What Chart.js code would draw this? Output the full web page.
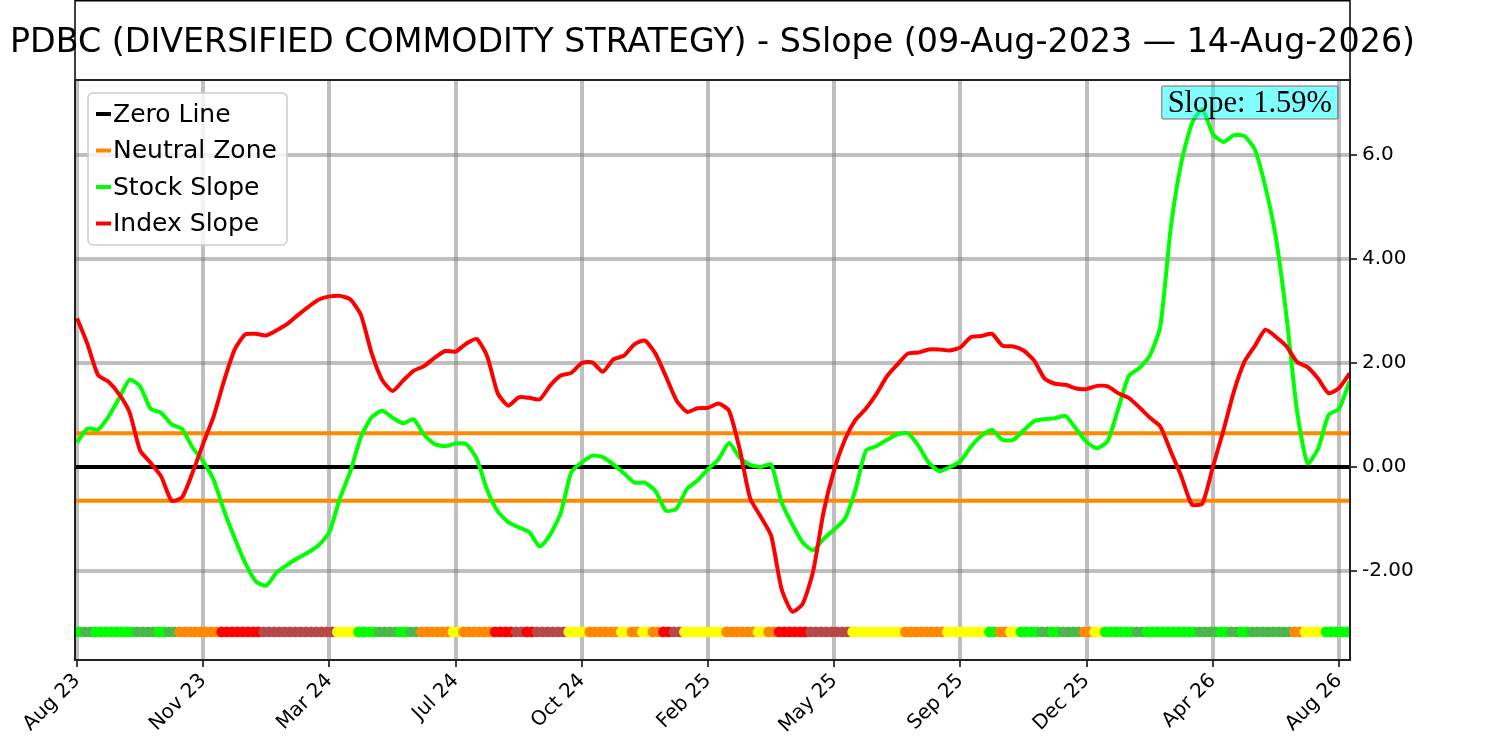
<!DOCTYPE html>
<html>
<head>
<meta charset="utf-8">
<script src="https://cdn.jsdelivr.net/npm/chart.js@4.4.1/dist/chart.umd.min.js"></script>
<style>
  html, body { margin: 0; padding: 0; background: #fff; }
</style>
</head>
<body>
<canvas id="slopeChart" width="1500" height="741"></canvas>
<script>
// chart text
const chartTitle = 'PDBC (DIVERSIFIED COMMODITY STRATEGY) - SSlope (09-Aug-2023 — 14-Aug-2026)';
const slopeNote = 'Slope: 1.59%';

// x axis: one sample every ~9 days, a tick every 12 samples
const xTickPos = [0, 12, 24, 36, 48, 60, 72, 84, 96, 108, 120];
const xTickLabels = ['Aug 23', 'Nov 23', 'Mar 24', 'Jul 24', 'Oct 24', 'Feb 25', 'May 25', 'Sep 25', 'Dec 25', 'Apr 26', 'Aug 26'];
const xMin = -0.19;
const xMax = 121.04;

// y axis
const yTickPos = [-2, 0, 2, 4, 6];
const yTickLabels = ['-2.00', '0.00', '2.00', '4.00', '6.0'];
const yMin = -3.71;
const yMax = 7.44;

const zeroLevel = 0;
const neutralBand = 0.65;
const trendLevel = -3.17;

const stockSlope = [
  0.47, 0.74, 0.72, 0.97, 1.32, 1.68, 1.55, 1.12, 1.04, 0.82,
  0.73, 0.37, 0.11, -0.25, -0.85, -1.37, -1.85, -2.20, -2.28, -2.02,
  -1.88, -1.75, -1.64, -1.50, -1.25, -0.60, -0.08, 0.58, 0.95, 1.08,
  0.95, 0.84, 0.92, 0.62, 0.44, 0.40, 0.45, 0.44, 0.16, -0.44,
  -0.85, -1.06, -1.16, -1.25, -1.53, -1.30, -0.88, -0.10, 0.09, 0.22,
  0.19, 0.05, -0.12, -0.30, -0.30, -0.46, -0.84, -0.80, -0.42, -0.26,
  -0.04, 0.15, 0.46, 0.18, 0.04, 0.00, 0.05, -0.68, -1.10, -1.45,
  -1.60, -1.38, -1.20, -1.00, -0.45, 0.31, 0.40, 0.52, 0.63, 0.65,
  0.41, 0.08, -0.08, 0.00, 0.11, 0.39, 0.60, 0.71, 0.52, 0.52,
  0.70, 0.88, 0.92, 0.94, 0.98, 0.73, 0.48, 0.36, 0.50, 1.12,
  1.75, 1.90, 2.14, 2.70, 4.60, 5.85, 6.60, 6.88, 6.40, 6.25,
  6.38, 6.36, 6.10, 5.38, 4.40, 2.90, 1.08, 0.07, 0.35, 1.00,
  1.12, 1.65
];

const indexSlope = [
  2.86, 2.36, 1.77, 1.64, 1.40, 1.05, 0.32, 0.08, -0.18, -0.65,
  -0.58, -0.10, 0.45, 0.98, 1.67, 2.26, 2.55, 2.56, 2.53, 2.63,
  2.75, 2.92, 3.08, 3.22, 3.28, 3.29, 3.22, 2.92, 2.20, 1.68,
  1.46, 1.66, 1.85, 1.94, 2.10, 2.23, 2.22, 2.37, 2.46, 2.13,
  1.42, 1.18, 1.34, 1.33, 1.30, 1.57, 1.76, 1.81, 2.00, 2.01,
  1.83, 2.07, 2.14, 2.36, 2.43, 2.18, 1.74, 1.28, 1.06, 1.13,
  1.14, 1.22, 1.08, 0.35, -0.60, -0.95, -1.32, -2.35, -2.78, -2.63,
  -2.00, -0.85, -0.05, 0.52, 0.90, 1.12, 1.40, 1.74, 1.97, 2.18,
  2.20, 2.26, 2.26, 2.24, 2.30, 2.50, 2.52, 2.56, 2.33, 2.32,
  2.24, 2.05, 1.70, 1.60, 1.58, 1.51, 1.50, 1.56, 1.55, 1.42,
  1.33, 1.15, 0.95, 0.78, 0.30, -0.18, -0.72, -0.70, 0.00, 0.70,
  1.45, 2.02, 2.33, 2.64, 2.50, 2.32, 2.02, 1.92, 1.70, 1.42,
  1.52, 1.80
];

// trend state per sample: G strong up, g up, Y flat, O weak, R down, r weak down
const trendCodes = [
  'GgGGGGggGg', 'OOOORRRRrr', 'rrrrrYYGGg', 'gGgOOOYOOO', 'RRrRrrrYYO',
  'OOYOYORrYY', 'YYOOOYORRR', 'rrrrYYYYYO', 'OOOYYYYGOY', 'GGgGggOYGG',
  'GgGGGGGggG', 'gGggggOYYG', 'GG'
].join('').split('');

const trendColors = {
  G: '#00ff00',
  g: '#48b848',
  Y: '#ffff00',
  O: '#ff8800',
  R: '#ff0000',
  r: '#b84848'
};

const FONT = '"DejaVu Sans", sans-serif';

const decorPlugin = {
  id: 'decor',
  afterDatasetsDraw(chart) {
    const ctx = chart.ctx;
    const a = chart.chartArea;
    ctx.save();

    // legend box top-left
    const items = chart.data.datasets.filter(d => d.legend);
    const bx = a.left + 13, by = a.top + 13, bw = 199, bh = 152;
    ctx.beginPath();
    ctx.roundRect(bx, by, bw, bh, 5);
    ctx.fillStyle = 'rgba(255,255,255,0.8)';
    ctx.fill();
    ctx.strokeStyle = '#cccccc';
    ctx.lineWidth = 1.5;
    ctx.stroke();
    ctx.font = '25px ' + FONT;
    ctx.textAlign = 'left';
    ctx.textBaseline = 'middle';
    items.forEach((d, i) => {
      const cy = by + 21 + i * 36.5;
      ctx.strokeStyle = d.borderColor;
      ctx.lineWidth = 4;
      ctx.beginPath();
      ctx.moveTo(bx + 8, cy);
      ctx.lineTo(bx + 23, cy);
      ctx.stroke();
      ctx.fillStyle = '#000';
      ctx.fillText(d.label, bx + 25, cy + 1);
    });

    // slope note top-right
    ctx.font = '30.5px "Liberation Serif", serif';
    const tw = ctx.measureText(slopeNote).width;
    const rx = a.right - 12, ty = a.top + 6, h = 33;
    ctx.beginPath();
    ctx.roundRect(rx - tw - 12, ty, tw + 12, h, 2);
    ctx.fillStyle = 'rgba(0,255,255,0.5)';
    ctx.fill();
    ctx.strokeStyle = 'rgba(140,40,40,0.5)';
    ctx.lineWidth = 1.5;
    ctx.stroke();
    ctx.fillStyle = '#000';
    ctx.textAlign = 'left';
    ctx.textBaseline = 'middle';
    ctx.fillText(slopeNote, rx - tw - 6, ty + h / 2 + 1);
    ctx.restore();
  },
  afterDraw(chart) {
    const ctx = chart.ctx;
    const a = chart.chartArea;
    ctx.save();
    ctx.strokeStyle = '#000';
    ctx.lineWidth = 1.5;
    ctx.strokeRect(a.left, 0.75, a.right - a.left, a.top - 0.75);
    ctx.strokeStyle = '#222';
    ctx.lineWidth = 2;
    ctx.strokeRect(a.left, a.top, a.right - a.left, a.bottom - a.top);
    ctx.font = '33.3px ' + FONT;
    ctx.fillStyle = '#000';
    ctx.textAlign = 'center';
    ctx.textBaseline = 'middle';
    ctx.fillText(chartTitle, (a.left + a.right) / 2, a.top / 2 + 3);
    ctx.restore();
  }
};

const hline = level => [{ x: xMin - 1, y: level }, { x: xMax + 1, y: level }];

// two overlapping dots per sample so the trend strip reads as one band
const trendPoints = trendCodes.flatMap((c, i) => [{ x: i - 0.25, y: trendLevel }, { x: i + 0.25, y: trendLevel }]);
const trendPointColors = trendCodes.flatMap(c => [trendColors[c], trendColors[c]]);

new Chart(document.getElementById('slopeChart').getContext('2d'), {
  type: 'line',
  data: {
    datasets: [{
      label: 'Zero Line',
      legend: true,
      data: hline(zeroLevel),
      borderColor: '#000000',
      borderWidth: 4,
      pointRadius: 0,
      order: 4
    }, {
      label: 'Neutral Zone',
      legend: true,
      data: hline(neutralBand),
      borderColor: '#ff8800',
      borderWidth: 4,
      pointRadius: 0,
      order: 3
    }, {
      label: 'Neutral Zone (low)',
      data: hline(-neutralBand),
      borderColor: '#ff8800',
      borderWidth: 4,
      pointRadius: 0,
      order: 3
    }, {
      label: 'Stock Slope',
      legend: true,
      data: stockSlope.map((v, i) => ({ x: i, y: v })),
      borderColor: '#00ff00',
      borderWidth: 4,
      pointRadius: 0,
      tension: 0.2,
      order: 2
    }, {
      label: 'Index Slope',
      legend: true,
      data: indexSlope.map((v, i) => ({ x: i, y: v })),
      borderColor: '#ff0000',
      borderWidth: 4,
      pointRadius: 0,
      tension: 0.2,
      order: 1
    }, {
      label: 'Trend',
      type: 'scatter',
      data: trendPoints,
      pointBackgroundColor: trendPointColors,
      pointBorderWidth: 0,
      pointRadius: 5.3,
      order: 5
    }]
  },
  options: {
    responsive: false,
    animation: false,
    devicePixelRatio: 1,
    layout: { padding: { left: 75, top: 80, right: 0, bottom: 0 } },
    plugins: {
      legend: { display: false },
      tooltip: { enabled: false }
    },
    scales: {
      x: {
        type: 'linear',
        min: xMin,
        max: xMax,
        afterBuildTicks: scale => { scale.ticks = xTickPos.map(v => ({ value: v })); },
        afterFit: scale => { scale.height = 81; },
        border: { display: false },
        grid: {
          color: 'rgba(128,128,128,0.5)',
          lineWidth: 4,
          tickColor: '#000',
          tickWidth: 1.5,
          tickLength: 7
        },
        ticks: {
          autoSkip: false,
          minRotation: 45,
          maxRotation: 45,
          padding: 2,
          color: '#000',
          font: { family: FONT, size: 20 },
          callback: (v, i) => xTickLabels[i]
        }
      },
      y: {
        position: 'right',
        min: yMin,
        max: yMax,
        afterBuildTicks: scale => { scale.ticks = yTickPos.map(v => ({ value: v })); },
        afterFit: scale => { scale.width = 150; },
        border: { display: false },
        grid: {
          color: 'rgba(128,128,128,0.5)',
          lineWidth: 4,
          tickColor: '#000',
          tickWidth: 1.5,
          tickLength: 7
        },
        ticks: {
          padding: 5,
          color: '#000',
          font: { family: FONT, size: 20 },
          callback: (v, i) => yTickLabels[i]
        }
      }
    }
  },
  plugins: [decorPlugin]
});
</script>
</body>
</html>
